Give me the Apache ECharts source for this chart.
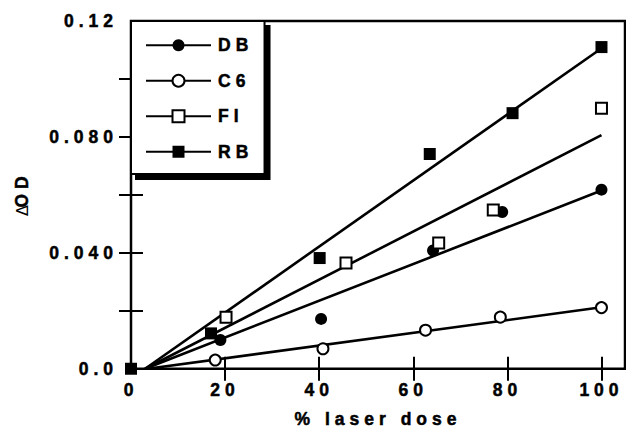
<!DOCTYPE html>
<html>
<head>
<meta charset="utf-8">
<script src="https://cdn.jsdelivr.net/npm/echarts@6/dist/echarts.min.js"></script>
<style>
  html, body { margin: 0; padding: 0; background: #fff; }
  #chart { width: 626px; height: 433px; }
  /* the figure uses widely tracked bold lettering */
  #chart svg text { letter-spacing: 5px; }
</style>
</head>
<body>
<div id="chart"></div>
<script>
// Absorbance change versus laser dose for four dyes
const seriesNames = ['DB', 'C6', 'FI', 'RB'];

const doseDB = [19, 40.4, 64.2, 78.9, 100];
const odDB   = [0.0099, 0.0172, 0.0408, 0.0541, 0.0618];

const doseC6 = [17.9, 40.8, 62.6, 78.5, 100];
const odC6   = [0.0030, 0.0069, 0.0133, 0.0178, 0.0211];

const doseFI = [20.2, 45.7, 65.4, 77.0, 100];
const odFI   = [0.0178, 0.0365, 0.0434, 0.0548, 0.0899];

const doseRB = [0, 17.0, 40.1, 63.5, 81.1, 100];
const odRB   = [0, 0.0122, 0.0382, 0.0741, 0.0882, 0.1110];

// Linear fits: each line runs from its dose intercept to 100 %
const fitDose  = [[3, 100], [3.5, 100], [3, 100], [3, 99.5]];
const fitOD    = [[0, 0.0615], [0, 0.0212], [0, 0.0806], [0, 0.1100]];

// Axis ticks and labels
const xTicks = [0, 20, 40, 60, 80, 100];
const yTicks = [0, 0.02, 0.04, 0.06, 0.08, 0.10, 0.12];
const yLabelValues = [0, 0.04, 0.08, 0.12];
const yLabelText   = ['0.0', '0.040', '0.080', '0.12'];

const doses = [doseDB, doseC6, doseFI, doseRB];
const ods   = [odDB, odC6, odFI, odRB];
const symbols = ['circle', 'emptyCircle', 'emptyRect', 'rect'];
const symbolSizes = [12, 11, 11, 12];

const FONT = 'Liberation Sans, Arial, Helvetica, sans-serif';
// heavy black lettering: bold face with a hairline outline
const textBase = {
  color: '#000', fontFamily: FONT, fontWeight: 'bold', fontSize: 17.5,
  textBorderColor: '#000', textBorderWidth: 0.5
};

function pairs(xs, ys) { return xs.map((x, i) => [x, ys[i]]); }

const fitSeries = seriesNames.map((name, k) => ({
  name: name,
  type: 'line',
  data: pairs(fitDose[k], fitOD[k]),
  symbol: symbols[k],
  showSymbol: false,
  lineStyle: { color: '#000', width: 2.6 },
  itemStyle: { color: '#000', borderColor: '#000' },
  silent: true,
  z: 2
}));

const pointSeries = seriesNames.map((name, k) => ({
  name: name,
  type: 'scatter',
  data: pairs(doses[k], ods[k]),
  symbol: symbols[k],
  symbolSize: symbolSizes[k],
  itemStyle: {
    color: '#000',
    borderColor: '#000',
    borderWidth: symbols[k].startsWith('empty') ? 1.6 : 0,
    opacity: 1
  },
  clip: false,
  z: 3
}));

const tickStyle = { show: true, inside: true, length: 12, lineStyle: { color: '#000', width: 2 } };

const option = {
  animation: false,
  backgroundColor: '#fff',
  grid: {
    left: 131, right: 1, top: 21, bottom: 60,
    show: true, borderColor: '#000', borderWidth: 2.5, backgroundColor: 'transparent'
  },
  legend: {
    orient: 'vertical',
    left: 131, top: 21,
    data: seriesNames,
    itemWidth: 65, itemHeight: 15, itemGap: 17,
    padding: [15, 21, 13, 14],
    backgroundColor: '#fff',
    borderColor: '#000', borderWidth: 2,
    shadowColor: '#000', shadowBlur: 0, shadowOffsetX: 5, shadowOffsetY: 5,
    selectedMode: false,
    textStyle: Object.assign({ padding: [0, 0, 0, 2] }, textBase)
  },
  xAxis: [{
    type: 'value', min: 0, max: 105, interval: 20,
    position: 'bottom',
    name: '% laser dose', nameLocation: 'middle', nameGap: 41,
    nameTextStyle: Object.assign({}, textBase),
    axisLine: { show: false },
    axisTick: Object.assign({ customValues: xTicks }, tickStyle),
    axisLabel: Object.assign({
      customValues: xTicks, margin: 12,
      formatter: v => String(v)
    }, textBase),
    splitLine: { show: false }
  }, {
    type: 'value', min: 0, max: 105, interval: 20,
    position: 'top',
    axisLine: { show: false },
    axisTick: Object.assign({ customValues: xTicks.slice(1) }, tickStyle),
    axisLabel: { show: false },
    splitLine: { show: false }
  }],
  yAxis: [{
    type: 'value', min: 0, max: 0.12, interval: 0.02,
    position: 'left',
    name: '{d|Δ}{b|OD}', nameLocation: 'middle', nameGap: 100, nameRotate: 90,
    nameTextStyle: {
      rich: {
        d: { color: '#000', fontFamily: 'DejaVu Sans, sans-serif', fontWeight: 'normal', fontSize: 16 },
        b: Object.assign({}, textBase)
      }
    },
    axisLine: { show: false },
    axisTick: Object.assign({ customValues: yTicks }, tickStyle),
    axisLabel: Object.assign({
      customValues: yLabelValues, margin: 13,
      formatter: v => {
        const i = yLabelValues.findIndex(t => Math.abs(t - v) < 1e-9);
        return i >= 0 ? yLabelText[i] : '';
      }
    }, textBase),
    splitLine: { show: false }
  }, {
    type: 'value', min: 0, max: 0.12, interval: 0.02,
    position: 'right',
    axisLine: { show: false },
    axisTick: Object.assign({ customValues: yTicks.slice(1, -1) }, tickStyle),
    axisLabel: { show: false },
    splitLine: { show: false }
  }],
  series: fitSeries.concat(pointSeries)
};

const chart = echarts.init(document.getElementById('chart'), null, { renderer: 'svg' });
chart.setOption(option);
</script>
</body>
</html>
